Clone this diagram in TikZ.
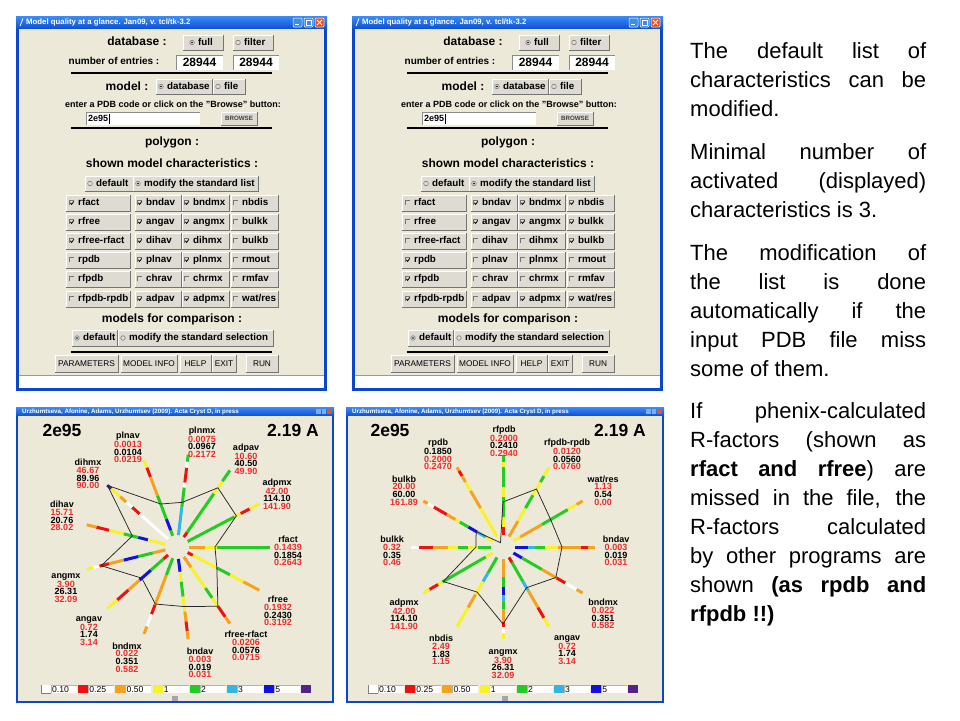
\documentclass[tikz,border=0pt]{standalone}
\usepackage{fontspec}
\setmainfont{Liberation Sans}
\usetikzlibrary{calc}
\definecolor{winbg}{HTML}{ECE9D8}
\definecolor{btnc}{HTML}{DEDBD3}
\definecolor{xpblue}{HTML}{0A4ED6}
\definecolor{xplight}{HTML}{3D8CF6}
\definecolor{xpborder}{HTML}{0B46CC}
\definecolor{xpred}{HTML}{E0562C}
\definecolor{txtred}{HTML}{EE2C2C}
\definecolor{cW}{HTML}{FFFFFF}
\definecolor{cR}{HTML}{EE1111}
\definecolor{cO}{HTML}{F5A21E}
\definecolor{cY}{HTML}{F8F22A}
\definecolor{cG}{HTML}{22CC22}
\definecolor{cC}{HTML}{33B5E5}
\definecolor{cB}{HTML}{1010E0}
\definecolor{cP}{HTML}{552288}
\tikzset{
  hd/.style={font=\bfseries\fontsize{12}{12}\selectfont, inner sep=0pt, text height=9pt, text depth=2.5pt},
  sm/.style={font=\bfseries\fontsize{10}{10}\selectfont, inner sep=0pt, text height=7.5pt, text depth=2pt},
  sm9/.style={font=\bfseries\fontsize{9}{9}\selectfont, inner sep=0pt, text height=7pt, text depth=2pt},
  gl/.style={font=\bfseries\fontsize{9.8}{9.8}\selectfont, inner sep=0pt, text height=7pt, text depth=2pt},
  fld/.style={font=\bfseries\fontsize{12}{12}\selectfont, inner sep=0pt, text height=8.6pt, text depth=0pt},
  tinyb/.style={font=\bfseries\fontsize{6.2}{6.2}\selectfont, inner sep=0pt, text=black!75, text height=4.5pt, text depth=0pt},
  bt/.style={font=\fontsize{8.3}{8.3}\selectfont, inner sep=0pt, text height=6pt, text depth=0pt},
  wtitle/.style={font=\bfseries\fontsize{7.8}{7.8}\selectfont, text=white, inner sep=0pt},
  ptitle/.style={font=\bfseries\fontsize{6.2}{6.2}\selectfont, text=white, inner sep=0pt},
  sep/.style={line width=1.6pt, black},
  rl/.style={font=\bfseries\fontsize{9}{7.6}\selectfont, align=center, inner sep=0pt},
  big/.style={font=\bfseries\fontsize{17.5}{17.5}\selectfont, inner sep=0pt},
  lg/.style={font=\fontsize{8.6}{8.6}\selectfont, inner sep=0pt, text height=6pt, text depth=0pt},
  poly/.style={line width=0.75pt, black!85},
  rt/.style={anchor=base west, inner sep=0pt, font=\fontsize{22}{29}\selectfont},
}
% raised button
\newcommand{\gbtn}[4]{%
  \fill[btnc] (#1,#2) rectangle (#3,#4);
  \draw[white, line width=0.6pt] (#1,#4) -- (#1,#2) -- (#3,#2);
  \draw[black!55, line width=0.6pt] (#1,#4) -- (#3,#4) -- (#3,#2);
}
% sunken text field
\newcommand{\tfield}[4]{%
  \fill[white] (#1,#2) rectangle (#3,#4);
  \draw[black!45, line width=0.6pt] (#1,#4) -- (#1,#2) -- (#3,#2);
}
\newcommand{\radio}[3]{%
  \draw[black!55, line width=0.5pt] (#1,#2) circle (2.3);
  \ifnum#3=1 \fill[black] (#1,#2) circle (0.9);\fi
}
\newcommand{\chk}[3]{%
  \draw[black!55, line width=0.5pt] (#1-2.4,#2+2.4) -- (#1-2.4,#2-2.4) -- (#1+2.4,#2-2.4);
  \ifnum#3=1 \draw[black, line width=0.8pt] (#1-1.6,#2-0.2) -- (#1-0.4,#2+1.4) -- (#1+1.8,#2-1.6);\fi
}
\newcommand{\GuiWindow}{%
  \fill[xpborder] (16,16) rectangle (327,391);
  \shade[top color=xplight, bottom color=xpblue] (16,16) rectangle (327,29);
  \fill[winbg] (19,29) rectangle (324,388);
  \draw[white, line width=0.8pt] (20,26) -- (23,18.5);
  \node[wtitle, anchor=west] (wt) at (26,22.5) {Model quality at a glance. Jan09, v. tcl/tk-3.2};
  \filldraw[fill=xplight, draw=white, line width=0.5pt, rounded corners=1pt] (293,18) rectangle (302,27);
  \draw[white, line width=1pt] (295,24.5) -- (298.5,24.5);
  \filldraw[fill=xplight, draw=white, line width=0.5pt, rounded corners=1pt] (304,18) rectangle (313,27);
  \draw[white, line width=0.7pt] (306,20.5) rectangle (311,25);
  \filldraw[fill=xpred, draw=white, line width=0.5pt, rounded corners=1pt] (315,18) rectangle (324,27);
  \draw[white, line width=0.9pt] (317,20) -- (322,25) (322,20) -- (317,25);
  \fill[white] (19,375) rectangle (324,388);
  \draw[black!40] (19,375) -- (324,375);
  % database
  \node[hd] (db) at (137,42) {database :};
  \gbtn{183}{35}{223}{50} \radio{192}{42.5}{1} \node[gl, anchor=west] (full) at (198,42.5) {full};
  \gbtn{233}{35}{273}{50} \radio{238}{42.5}{0} \node[gl, anchor=west] (filt) at (244,42.5) {filter};
  \node[sm] (ne) at (114,62) {number of entries :};
  \tfield{176}{55}{223}{70} \node[fld] (n1) at (199.5,62.5) {28944};
  \tfield{233}{55}{279}{70} \node[fld] (n2) at (256,62.5) {28944};
  \draw[sep] (71,73) -- (272,73);
  % model
  \node[hd] (md) at (127,87) {model :};
  \gbtn{156}{79}{212}{94} \radio{161}{86.5}{1} \node[gl, anchor=west] (mdb) at (167,86.5) {database};
  \gbtn{213}{79}{245}{94} \radio{218}{86.5}{0} \node[gl, anchor=west] (mfi) at (224,86.5) {file};
  \node[sm9] (ent) at (173,105) {enter a PDB code or click on the "Browse" button:};
  \tfield{86}{112}{200}{125} \node[sm9, anchor=west] (code) at (88,118.5) {2e95};
  \draw[black, line width=0.6pt] (109,113.5) -- (109,123.5);
  \gbtn{221}{112}{257}{125} \node[tinyb] (brw) at (239,118.5) {BROWSE};
  \draw[sep] (71,128) -- (272,128);
  \node[hd] (pg) at (172,142) {polygon :};
  \node[hd] (smc) at (172,164) {shown model characteristics :};
  \gbtn{85}{176}{133}{191} \radio{90}{183.5}{0} \node[gl, anchor=west] (d1) at (96,183.5) {default};
  \gbtn{133}{176}{258}{191} \radio{138}{183.5}{1} \node[gl, anchor=west] (m1) at (144,183.5) {modify the standard list};
  \node[hd] (mfc) at (172,319) {models for comparison :};
  \gbtn{72}{330}{117}{346} \radio{77}{338}{1} \node[gl, anchor=west] (d2) at (83,338) {default};
  \gbtn{118}{330}{273}{346} \radio{123}{338}{0} \node[gl, anchor=west] (m2) at (129,338) {modify the standard selection};
  \draw[sep] (71,352) -- (272,352);
  \gbtn{55}{355}{118}{372} \node[bt] (b1) at (86.5,363.5) {PARAMETERS};
  \gbtn{121}{355}{177}{372} \node[bt] (b2) at (149,363.5) {MODEL INFO};
  \gbtn{180}{355}{211}{372} \node[bt] (b3) at (195.5,363.5) {HELP};
  \gbtn{212}{355}{236}{372} \node[bt] (b4) at (224,363.5) {EXIT};
  \gbtn{246}{355}{278}{372} \node[bt] (b5) at (262,363.5) {RUN};
}
\newcommand{\GuiGrid}[1]{%
  \foreach \yy/\la/\ca/\lb/\cb/\lc/\cc/\ld/\cd in {#1} {
    \gbtn{66}{\yy}{130}{\yy+16}
    \gbtn{135}{\yy}{181}{\yy+16}
    \gbtn{182}{\yy}{229}{\yy+16}
    \gbtn{231}{\yy}{278}{\yy+16}
    \chk{72}{\yy+8}{\ca} \node[gl, anchor=west] at (78,\yy+8) {\la};
    \chk{140}{\yy+8}{\cb} \node[gl, anchor=west] at (146,\yy+8) {\lb};
    \chk{187}{\yy+8}{\cc} \node[gl, anchor=west] at (193,\yy+8) {\lc};
    \chk{236}{\yy+8}{\cd} \node[gl, anchor=west] at (242,\yy+8) {\ld};
  }%
}
\newcommand{\PlotFrame}[2]{%
  \fill[xpborder] (#1,407) rectangle (#2,703);
  \shade[top color=xplight, bottom color=xpblue] (#1,407) rectangle (#2,416);
  \fill[winbg] (#1+2,416) rectangle (#2-2,701);
  \node[ptitle, anchor=west] at (#1+6,411.5) {Urzhumtseva, Afonine, Adams, Urzhumtsev (2009). Acta Cryst D, in press};
  \fill[xplight!70!white] (#2-18,408.5) rectangle (#2-13.5,414);
  \fill[xplight!70!white] (#2-12.5,408.5) rectangle (#2-8,414);
  \fill[xpred] (#2-7,408.5) rectangle (#2-2.5,414);
  \fill[black!35] ($(#1,696)!0.5!(#2,696)+(-3,0)$) rectangle ++(6,4.5);
}
\newcommand{\Legend}[1]{%
  \foreach \i/\col/\lab in {0/cW/0.10,1/cR/0.25,2/cO/0.50,3/cY/1,4/cG/2,5/cC/3,6/cB/5} {
    \fill[white] (#1+37.2*\i+10,685) rectangle (#1+37.2*\i+36,693);
    \draw[black!30, line width=0.5pt] (#1+37.2*\i+10,693) -- (#1+37.2*\i+10,685) -- (#1+37.2*\i+36,685);
    \fill[\col] (#1+37.2*\i,685) rectangle (#1+37.2*\i+10,693);
    \node[lg, anchor=west] at (#1+37.2*\i+11,689) {\lab};
  }
  \draw[black!50, line width=0.5pt] (#1,685) -- (#1,693) -- (#1+10,693);
  \fill[cP] (#1+37.2*7,685) rectangle (#1+37.2*7+10,693);
}
\newcommand{\spoke}[2]{%
  \foreach \c/\e [remember=\e as \s (initially 12)] in {#2} {
    \draw[line width=3pt, c\c] (#1:\s) -- (#1:\e);
  }%
}
\newcommand{\rlab}[6]{\node[rl] at (#1,#2) {#3\\\textcolor{txtred}{#4}\\#5\\\textcolor{txtred}{#6}};}
\newcommand{\rtj}[2]{\node[rt] at (690,#1-7.5) {\makebox[236pt][s]{#2}};}
\newcommand{\rtn}[2]{\node[rt] at (690,#1-7.5) {#2};}

\begin{document}
\begin{tikzpicture}[x=1pt,y=-1pt]
\useasboundingbox (0,0) rectangle (960,720);
\fill[white] (0,0) rectangle (960,720);

% ---------- top windows ----------
\begin{scope}
  \GuiWindow
  \GuiGrid{195/rfact/1/bndav/1/bndmx/1/nbdis/0,
           214/rfree/1/angav/1/angmx/1/bulkk/0,
           233/rfree-rfact/1/dihav/1/dihmx/1/bulkb/0,
           252/rpdb/0/plnav/1/plnmx/1/rmout/0,
           271/rfpdb/0/chrav/0/chrmx/0/rmfav/0,
           291/rfpdb-rpdb/0/adpav/1/adpmx/1/{wat/res}/0}
\end{scope}
\begin{scope}[xshift=336pt]
  \GuiWindow
  \GuiGrid{195/rfact/0/bndav/1/bndmx/1/nbdis/1,
           214/rfree/0/angav/1/angmx/1/bulkk/1,
           233/rfree-rfact/0/dihav/0/dihmx/0/bulkb/1,
           252/rpdb/1/plnav/0/plnmx/0/rmout/0,
           271/rfpdb/1/chrav/0/chrmx/0/rmfav/0,
           291/rfpdb-rpdb/1/adpav/0/adpmx/1/{wat/res}/1}
\end{scope}

% ---------- left radar ----------
\PlotFrame{16}{334}
\node[big] (id1) at (62,430) {2e95};
\node[big] (res1) at (293,430) {2.19 A};
\begin{scope}[shift={(177,547)}, y=1pt]
  \spoke{0}{O/28,Y/40,G/93}
  \spoke{-27.69}{R/18,Y/45,G/60,Y/75,O/93}
  \spoke{-55.38}{O/25,Y/50,G/62,Y/72,R/85,O/93}
  \spoke{-83.08}{B/25,Y/35,G/50,Y/65,O/75,R/85,O/93}
  \spoke{-110.77}{G/30,O/62,R/72,W/85,O/93}
  \spoke{-138.46}{R/18,G/35,B/50,O/65,R/80,Y/93}
  \spoke{-166.15}{O/25,G/40,B/55,O/70,R/80,W/86,Y/93}
  \spoke{166.15}{Y/30,B/40,G/55,Y/70,R/83,O/93}
  \spoke{138.46}{W/50,R/60,W/68,O/76,Y/88,P/93}
  \spoke{110.77}{G/18,B/30,G/55,O/75,R/85,Y/93}
  \spoke{83.08}{C/40,G/60,W/65,R/80,W/86,G/93}
  \spoke{55.38}{R/18,G/65,Y/80,G/93}
  \spoke{27.69}{G/65,Y/72,R/82,Y/93}
  \draw[poly] (0:38) -- (-27.69:45) -- (-55.38:72) -- (-83.08:60) -- (-110.77:61)
    -- (-138.46:47) -- (-166.15:78) -- (166.15:46) -- (138.46:93) -- (110.77:46)
    -- (83.08:45) -- (55.38:72) -- (27.69:67) -- cycle;
\end{scope}
\rlab{128}{447.5}{plnav}{0.0013}{0.0104}{0.0219}
\rlab{202}{442}{plnmx}{0.0075}{0.0967}{0.2172}
\rlab{246}{459}{adpav}{10.60}{40.50}{49.90}
\rlab{277}{494}{adpmx}{42.00}{114.10}{141.90}
\rlab{288}{551}{rfact}{0.1439}{0.1854}{0.2643}
\rlab{278}{611}{rfree}{0.1932}{0.2430}{0.3192}
\rlab{246}{646}{rfree-rfact}{0.0206}{0.0576}{0.0715}
\rlab{200}{663}{bndav}{0.003}{0.019}{0.031}
\rlab{127}{657.5}{bndmx}{0.022}{0.351}{0.582}
\rlab{89}{631}{angav}{0.72}{1.74}{3.14}
\rlab{66}{588}{angmx}{3.90}{26.31}{32.09}
\rlab{62}{516}{dihav}{15.71}{20.76}{28.02}
\rlab{88}{474}{dihmx}{46.67}{89.96}{90.00}
\Legend{41}

% ---------- right radar ----------
\PlotFrame{346}{664}
\node[big] (id2) at (390,430) {2e95};
\node[big] (res2) at (620,430) {2.19 A};
\begin{scope}[shift={(503,547)}, y=1pt]
  \spoke{90}{R/20,Y/30,G/50,Y/60,G/80,Y/85,G/92}
  \spoke{60}{O/30,Y/45,G/60,Y/75,G/82,Y/92}
  \spoke{30}{Y/20,O/45,G/75,Y/85,O/92}
  \spoke{0}{B/25,C/32,G/42,Y/55,O/78,R/85,O/92}
  \spoke{-30}{B/22,G/45,O/62,R/72,W/85,O/92}
  \spoke{-60}{R/18,G/40,C/50,O/70,R/82,Y/92}
  \spoke{-90}{O/30,G/40,B/48,C/55,G/62,O/75,R/80,W/86,Y/92}
  \spoke{-120}{G/30,C/40,Y/55,O/70,Y/92}
  \spoke{-150}{Y/20,G/70,Y/75,R/85,Y/92}
  \spoke{180}{G/25,Y/35,G/45,Y/55,O/70,R/84,W/92}
  \spoke{150}{Y/20,C/30,B/40,G/50,Y/55,O/65,R/80,W/87,O/92}
  \spoke{120}{Y/45,O/65,Y/75,O/82,R/88,O/92}
  \draw[poly] (90:45) -- (60:67) -- (30:55) -- (0:59) -- (-30:61) -- (-60:47)
    -- (-90:77) -- (-120:52) -- (-150:69) -- (180:27) -- (150:31) -- (120:5) -- cycle;
\end{scope}
\rlab{504}{441}{rfpdb}{0.2000}{0.2410}{0.2940}
\node[rl] (rpdbl) at (438,454.5) {rpdb\\0.1850\\\textcolor{txtred}{0.2000}\\\textcolor{txtred}{0.2470}};
\rlab{567}{454.5}{rfpdb-rpdb}{0.0120}{0.0560}{0.0760}
\rlab{603}{490.5}{wat/res}{1.13}{0.54}{0.00}
\rlab{616}{551}{bndav}{0.003}{0.019}{0.031}
\rlab{603}{614}{bndmx}{0.022}{0.351}{0.582}
\rlab{567}{650}{angav}{0.72}{1.74}{3.14}
\rlab{503}{664}{angmx}{3.90}{26.31}{32.09}
\rlab{441}{650}{nbdis}{2.49}{1.83}{1.15}
\rlab{404}{614}{adpmx}{42.00}{114.10}{141.90}
\rlab{392}{551}{bulkk}{0.32}{0.35}{0.46}
\rlab{404}{490.5}{bulkb}{20.00}{60.00}{161.89}
\Legend{368}

% ---------- right text ----------
\rtj{66}{The default list of}
\rtj{95}{characteristics can be}
\rtn{124}{modified.}
\rtj{167}{Minimal number of}
\rtj{196}{activated (displayed)}
\rtn{225}{characteristics is 3.}
\rtj{268}{The modification of}
\rtj{297}{the list is done}
\rtj{326}{automatically if the}
\rtj{355}{input PDB file miss}
\rtn{384}{some of them.}
\rtj{426}{If phenix-calculated}
\rtj{455}{R-factors (shown as}
\rtj{484}{\textbf{rfact and rfree}) are}
\rtj{513}{missed in the file, the}
\rtj{542}{R-factors calculated}
\rtj{571}{by other programs are}
\rtj{600}{shown \textbf{(as rpdb and}}
\rtn{629}{\textbf{rfpdb !!)}}
\end{tikzpicture}
\end{document}
